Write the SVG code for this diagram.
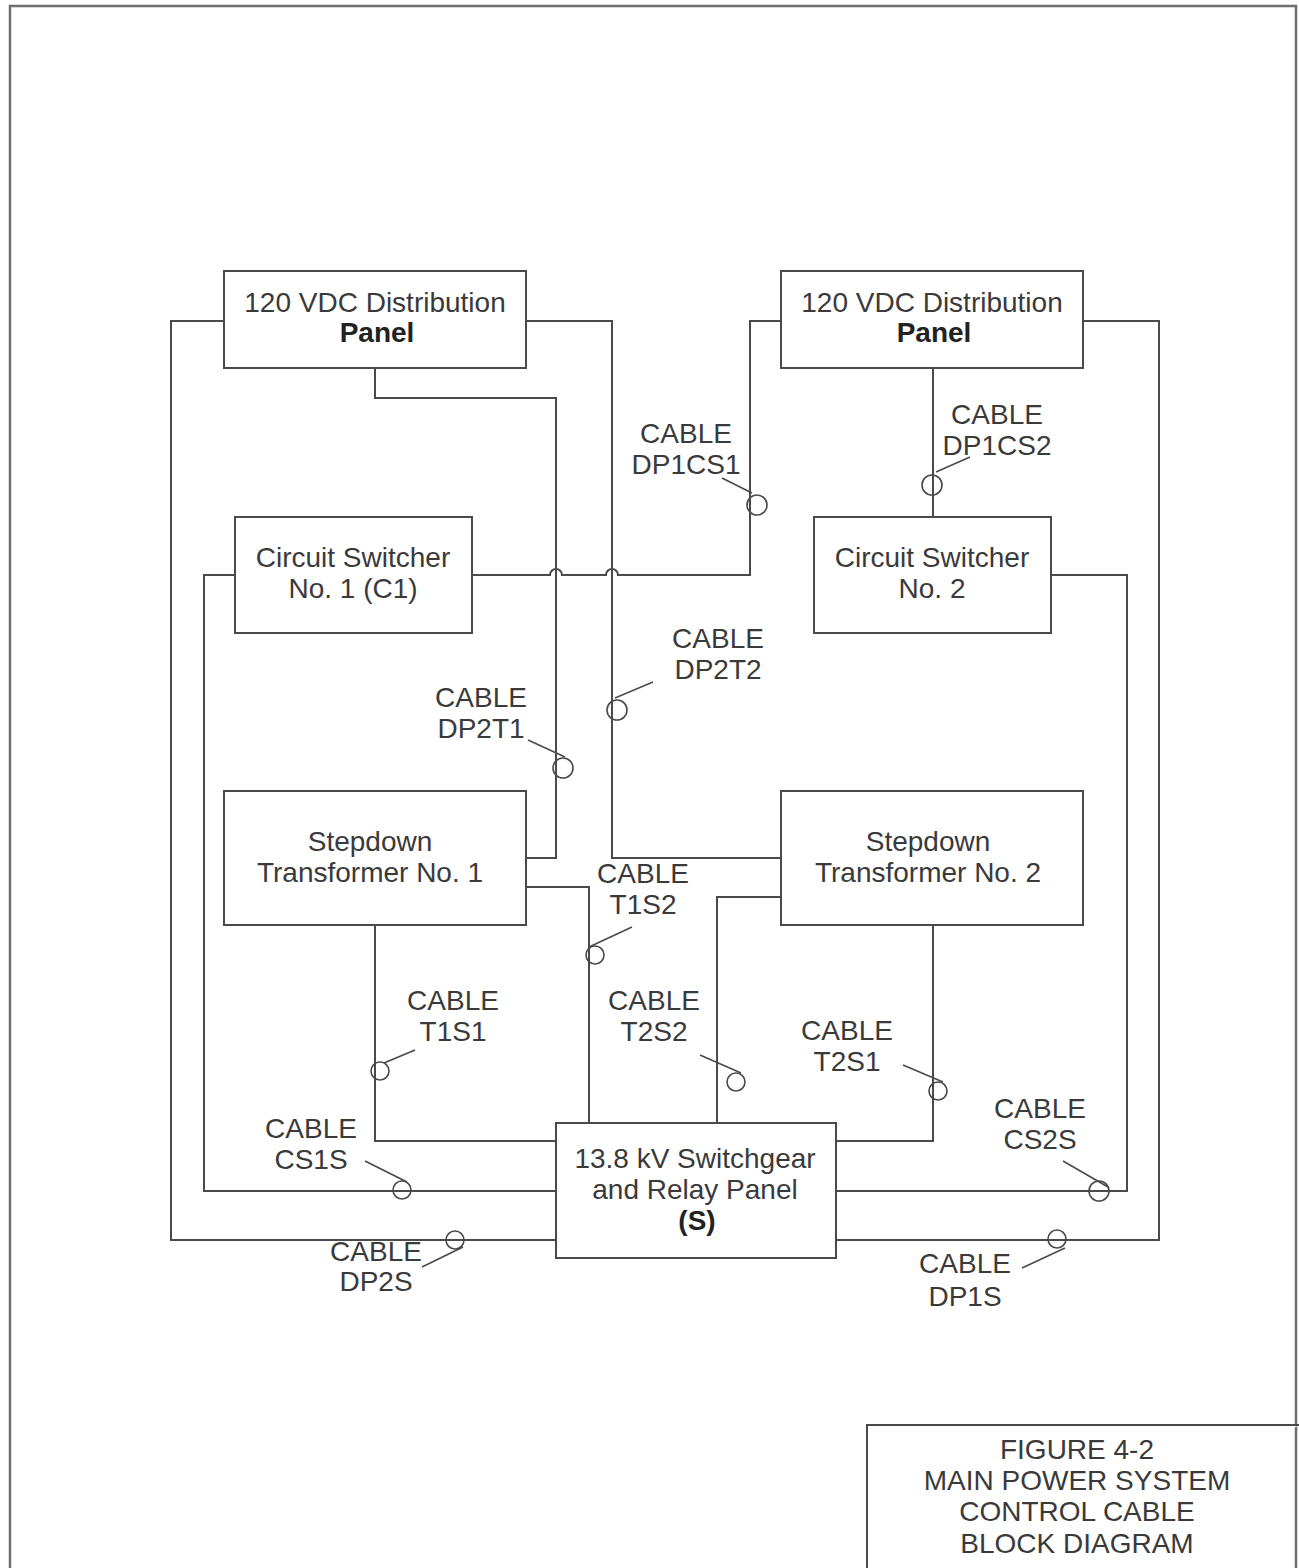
<svg xmlns="http://www.w3.org/2000/svg" width="1299" height="1568" viewBox="0 0 1299 1568">
<style>
.frame{fill:none;stroke:#6e6e6e;stroke-width:2.5}
.box{fill:#fff;stroke:#4a4a4a;stroke-width:2}
.w{fill:none;stroke:#4a4a4a;stroke-width:2}
.lp{fill:none;stroke:#4a4a4a;stroke-width:1.6}
text{font-family:"Liberation Sans",Arial,sans-serif;font-size:28px;fill:#3a3a3a;text-anchor:middle}
.b{font-weight:bold;fill:#222}
</style>
<rect width="1299" height="1568" fill="#fff"/>
<path class="frame" d="M10 1570 V6 H1296 V1570"/>
<g id="connectors">
<path class="w" d="M224 321 H171 V1240 H556"/>
<path class="w" d="M526 321 H612 V858 H781"/>
<path class="w" d="M375 368 V398 H556 V858 H526"/>
<path class="w" d="M781 321 H750 V575 H618 A6 6 0 0 0 606 575 H562 A6 6 0 0 0 550 575 H472"/>
<path class="w" d="M933 368 V517"/>
<path class="w" d="M1083 321 H1159 V1240 H836"/>
<path class="w" d="M235 575 H204 V1191 H556"/>
<path class="w" d="M1051 575 H1127 V1191 H836"/>
<path class="w" d="M375 925 V1141 H556"/>
<path class="w" d="M526 887 H589 V1123"/>
<path class="w" d="M781 897 H717 V1123"/>
<path class="w" d="M933 925 V1141 H836"/>
</g>
<g id="cable-labels">
<g id="c-dp1cs1"><path class="lp" d="M722 478 L752 493"/><circle class="lp" cx="757" cy="505" r="10"/><text x="686" y="443">CABLE</text><text x="686" y="474">DP1CS1</text></g>
<g id="c-dp1cs2"><path class="lp" d="M970 457 L936 472"/><circle class="lp" cx="932" cy="485" r="10"/><text x="997" y="424">CABLE</text><text x="997" y="455">DP1CS2</text></g>
<g id="c-dp2t1"><path class="lp" d="M528 740 L565 757"/><circle class="lp" cx="563" cy="768" r="10"/><text x="481" y="707">CABLE</text><text x="481" y="738">DP2T1</text></g>
<g id="c-dp2t2"><path class="lp" d="M653 682 L615 698"/><circle class="lp" cx="617" cy="710" r="10"/><text x="718" y="648">CABLE</text><text x="718" y="679">DP2T2</text></g>
<g id="c-t1s2"><path class="lp" d="M632 927 L589 947"/><circle class="lp" cx="595" cy="955" r="9"/><text x="643" y="883">CABLE</text><text x="643" y="914">T1S2</text></g>
<g id="c-t1s1"><path class="lp" d="M415 1050 L384 1063"/><circle class="lp" cx="380" cy="1071" r="9"/><text x="453" y="1010">CABLE</text><text x="453" y="1041">T1S1</text></g>
<g id="c-t2s2"><path class="lp" d="M700 1055 L741 1073"/><circle class="lp" cx="736" cy="1082" r="9"/><text x="654" y="1010">CABLE</text><text x="654" y="1041">T2S2</text></g>
<g id="c-t2s1"><path class="lp" d="M903 1065 L943 1082"/><circle class="lp" cx="938" cy="1091" r="9"/><text x="847" y="1040">CABLE</text><text x="847" y="1071">T2S1</text></g>
<g id="c-cs1s"><path class="lp" d="M365 1161 L407 1182"/><circle class="lp" cx="402" cy="1190" r="9"/><text x="311" y="1138">CABLE</text><text x="311" y="1169">CS1S</text></g>
<g id="c-cs2s"><path class="lp" d="M1063 1161 L1108 1187"/><circle class="lp" cx="1099" cy="1191" r="10"/><text x="1040" y="1118">CABLE</text><text x="1040" y="1149">CS2S</text></g>
<g id="c-dp2s"><path class="lp" d="M463 1247 L422 1267"/><circle class="lp" cx="455" cy="1240" r="9"/><text x="376" y="1261">CABLE</text><text x="376" y="1291">DP2S</text></g>
<g id="c-dp1s"><path class="lp" d="M1065 1248 L1022 1268"/><circle class="lp" cx="1057" cy="1239" r="9"/><text x="965" y="1273">CABLE</text><text x="965" y="1306">DP1S</text></g>
</g>
<g id="dp-left"><rect class="box" x="224" y="271" width="302" height="97"/><text x="375" y="312">120 VDC Distribution</text><text class="b" x="377" y="342">Panel</text></g>
<g id="dp-right"><rect class="box" x="781" y="271" width="302" height="97"/><text x="932" y="312">120 VDC Distribution</text><text class="b" x="934" y="342">Panel</text></g>
<g id="cs1"><rect class="box" x="235" y="517" width="237" height="116"/><text x="353" y="567">Circuit Switcher</text><text x="353" y="598">No. 1 (C1)</text></g>
<g id="cs2"><rect class="box" x="814" y="517" width="237" height="116"/><text x="932" y="567">Circuit Switcher</text><text x="932" y="598">No. 2</text></g>
<g id="t1"><rect class="box" x="224" y="791" width="302" height="134"/><text x="370" y="851">Stepdown</text><text x="370" y="882">Transformer No. 1</text></g>
<g id="t2"><rect class="box" x="781" y="791" width="302" height="134"/><text x="928" y="851">Stepdown</text><text x="928" y="882">Transformer No. 2</text></g>
<g id="s"><rect class="box" x="556" y="1123" width="280" height="135"/><text x="695" y="1168">13.8 kV Switchgear</text><text x="695" y="1199">and Relay Panel</text><text class="b" x="697" y="1230">(S)</text></g>
<g id="title"><path class="box" d="M867 1570 V1425 H1301"/><text x="1077" y="1459">FIGURE 4-2</text><text x="1077" y="1490">MAIN POWER SYSTEM</text><text x="1077" y="1521">CONTROL CABLE</text><text x="1077" y="1553">BLOCK DIAGRAM</text></g>
</svg>
